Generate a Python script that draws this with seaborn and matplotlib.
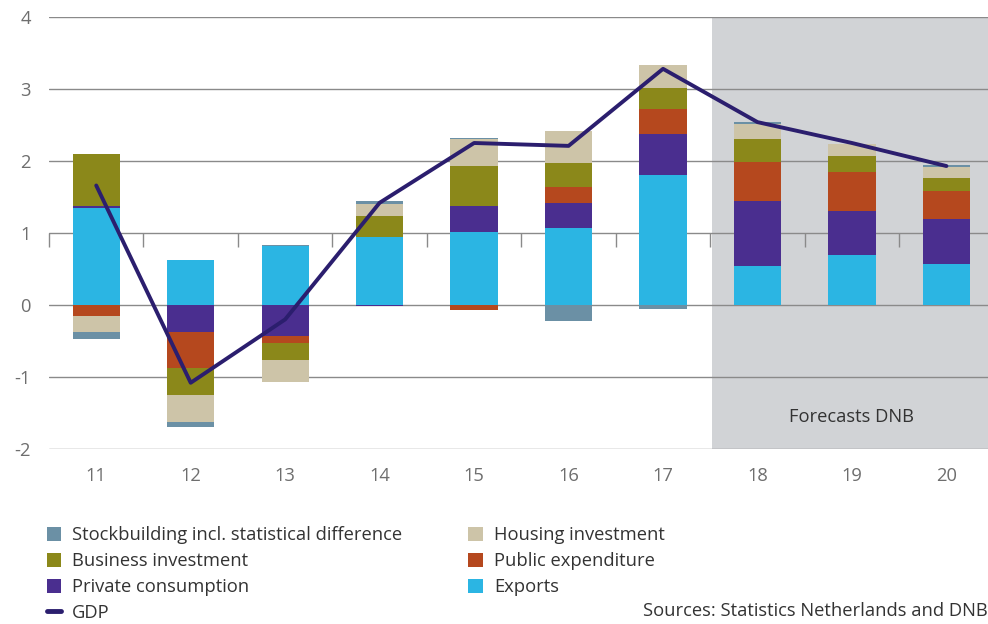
import numpy as np
import pandas as pd
import matplotlib
matplotlib.use("Agg")
import matplotlib.pyplot as plt
from matplotlib.patches import Patch
from matplotlib.lines import Line2D
import seaborn as sns

years = ["11", "12", "13", "14", "15", "16", "17", "18", "19", "20"]
exports = [1.35, 0.62, 0.82, 0.94, 1.01, 1.07, 1.80, 0.54, 0.69, 0.57]
private_consumption = [0.02, -0.38, -0.43, -0.02, 0.36, 0.34, 0.58, 0.91, 0.61, 0.62]
public_expenditure = [-0.15, -0.50, -0.10, 0.01, -0.07, 0.23, 0.34, 0.54, 0.55, 0.40]
business_investment = [0.73, -0.37, -0.24, 0.29, 0.56, 0.33, 0.29, 0.32, 0.22, 0.17]
housing_investment = [-0.23, -0.38, -0.30, 0.16, 0.37, 0.44, 0.33, 0.21, 0.16, 0.16]
stockbuilding = [-0.09, -0.07, 0.02, 0.04, 0.02, -0.22, -0.05, 0.02, 0.01, 0.02]
gdp = [1.66, -1.08, -0.20, 1.42, 2.25, 2.21, 3.28, 2.54, 2.25, 1.93]

series_names = ["Exports", "Private consumption", "Public expenditure",
                "Business investment", "Housing investment",
                "Stockbuilding incl. statistical difference"]
series_values = [exports, private_consumption, public_expenditure,
                 business_investment, housing_investment, stockbuilding]
colors = ["#2BB5E3", "#4A2E8F", "#B5481E", "#8B881A", "#CDC4A8", "#6B90A5"]
gdp_color = "#2B1E6E"

sns.set_theme(style="white")
plt.rcParams["font.family"] = ["Open Sans", "DejaVu Sans"]

FS = 13.2
fig = plt.figure(figsize=(9.88, 6.24), dpi=100)
ax = fig.add_axes([49 / 988, 1 - 449 / 624, 1 - 49 / 988, (449 - 17) / 624])

x = np.arange(len(years))

# forecast shading
ax.axvspan(6.52, 9.6, color="#D1D3D6", zorder=0, lw=0)
for yv in range(-2, 5):
    ax.axhline(yv, color="#8a8a8a", lw=1.0, zorder=1)

pos_bottom = np.zeros(len(years))
neg_bottom = np.zeros(len(years))
for name, vals, col in zip(series_names, series_values, colors):
    v = np.array(vals)
    bottoms = np.where(v >= 0, pos_bottom, neg_bottom)
    ax.bar(x, v, width=0.5, bottom=bottoms, color=col, lw=0, zorder=2)
    pos_bottom = pos_bottom + np.where(v >= 0, v, 0)
    neg_bottom = neg_bottom + np.where(v < 0, v, 0)

df_gdp = pd.DataFrame({"x": x, "gdp": gdp})
sns.lineplot(data=df_gdp, x="x", y="gdp", ax=ax, color=gdp_color, lw=2.8, zorder=3)
ax.set_xlim(-0.5, 9.44)
ax.set_ylim(-2, 4)

ax.set_xticks(x)
ax.set_xticklabels(years)
ax.set_yticks(range(-2, 5))
ax.set_yticklabels(["-2", "-1", "0", "1", "2", "3", "4"])
ax.tick_params(axis="both", length=0, labelsize=FS, colors="#6e6e6e")
ax.tick_params(axis="x", pad=13)
ax.tick_params(axis="y", pad=13)
ax.set_xlabel("")
ax.set_ylabel("")
for s in ax.spines.values():
    s.set_visible(False)

# category-boundary ticks sitting on the y=1 line
sec = ax.secondary_xaxis(0.5)
sec.set_xticks(np.arange(-0.5, 9.5, 1.0))
sec.tick_params(axis="x", direction="out", length=10, width=1, color="#8a8a8a",
                labelbottom=False, labeltop=False, bottom=True, top=False)
sec.xaxis.set_ticks_position("bottom")
sec.set_xticklabels([])
for s in sec.spines.values():
    s.set_visible(False)

ax.text(8.0, -1.55, "Forecasts DNB", ha="center", va="center", fontsize=FS,
        color="#333333", zorder=4)

handles = [
    Patch(facecolor=colors[5], lw=0, label=series_names[5]),
    Patch(facecolor=colors[3], lw=0, label=series_names[3]),
    Patch(facecolor=colors[1], lw=0, label=series_names[1]),
    Line2D([0], [0], color=gdp_color, lw=3.5, solid_capstyle="round", label="GDP"),
    Patch(facecolor=colors[4], lw=0, label=series_names[4]),
    Patch(facecolor=colors[2], lw=0, label=series_names[2]),
    Patch(facecolor=colors[0], lw=0, label=series_names[0]),
]
leg = fig.legend(handles=handles, ncol=2, loc="upper left",
                 bbox_to_anchor=(30 / 988, 1 - 510 / 624), frameon=False,
                 fontsize=FS, handlelength=0.8, handleheight=0.8,
                 handletextpad=0.6, labelspacing=0.42, columnspacing=3.6,
                 labelcolor="#333333")

fig.text(1.0, 1 - 611 / 624, "Sources: Statistics Netherlands and DNB",
         ha="right", va="center", fontsize=FS, color="#333333")

fig.savefig("out.png", dpi=100)
